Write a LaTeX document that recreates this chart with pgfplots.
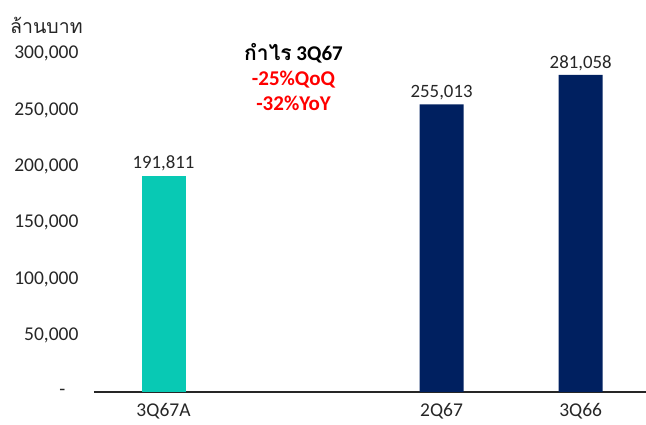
\documentclass[border=0pt]{standalone}
\usepackage{fontspec}
\setmainfont{Carlito}
\newfontfamily\thaifont[Script=Thai]{Loma}
\usepackage{pgfplots}
\pgfplotsset{compat=1.18}
\definecolor{teal1}{HTML}{08C9B4}
\definecolor{navy1}{HTML}{002060}
\begin{document}
\begin{tikzpicture}
\begin{axis}[
  scale only axis, width=552pt, height=338.4pt,
  xmin=-0.5, xmax=3.47, ymin=0, ymax=300000,
  scaled y ticks=false,
  axis lines*=left,
  y axis line style={draw=none},
  x axis line style={draw=black!85, line width=1.6pt},
  major tick length=0pt,
  xtick={0,2,3}, xticklabels={3Q67A,2Q67,3Q66},
  ytick={0,50000,100000,150000,200000,250000,300000},
  yticklabels={\raisebox{-7pt}{-}\kern13pt,{50,000},{100,000},{150,000},{200,000},{250,000},{300,000}},
  tick label style={font=\fontsize{19.5}{22}\selectfont, text=black!85},
  yticklabel style={xshift=-12pt},
  xticklabel style={yshift=-8pt},
  ybar, bar width=44pt,
  nodes near coords,
  nodes near coords style={font=\fontsize{18.8}{22}\selectfont, text=black!85,
    /pgf/number format/fixed, /pgf/number format/precision=0,
    /pgf/number format/1000 sep={,}, /pgf/number format/assume math mode=true,
    anchor=south, yshift=1pt},
  clip=false,
]
\addplot[fill=teal1, draw=none, bar shift=0pt] coordinates {(0,191811)};
\addplot[fill=navy1, draw=none, bar shift=0pt] coordinates {(2,255013) (3,281058)};
\node[align=center, font=\bfseries\fontsize{21}{25}\selectfont] at (axis cs:0.935,279000)
  {{\thaifont กำไร} 3Q67\\ \textcolor{red}{-25\%QoQ}\\ \textcolor{red}{-32\%YoY}};
\end{axis}
\node[anchor=west, font=\thaifont\fontsize{19.5}{24}\selectfont, text=black!85, inner sep=0pt] at (-84pt,367pt) {ล้านบาท};
\pgfresetboundingbox
\path (-94pt,-33pt) rectangle (552pt,392pt);
\end{tikzpicture}
\end{document}
